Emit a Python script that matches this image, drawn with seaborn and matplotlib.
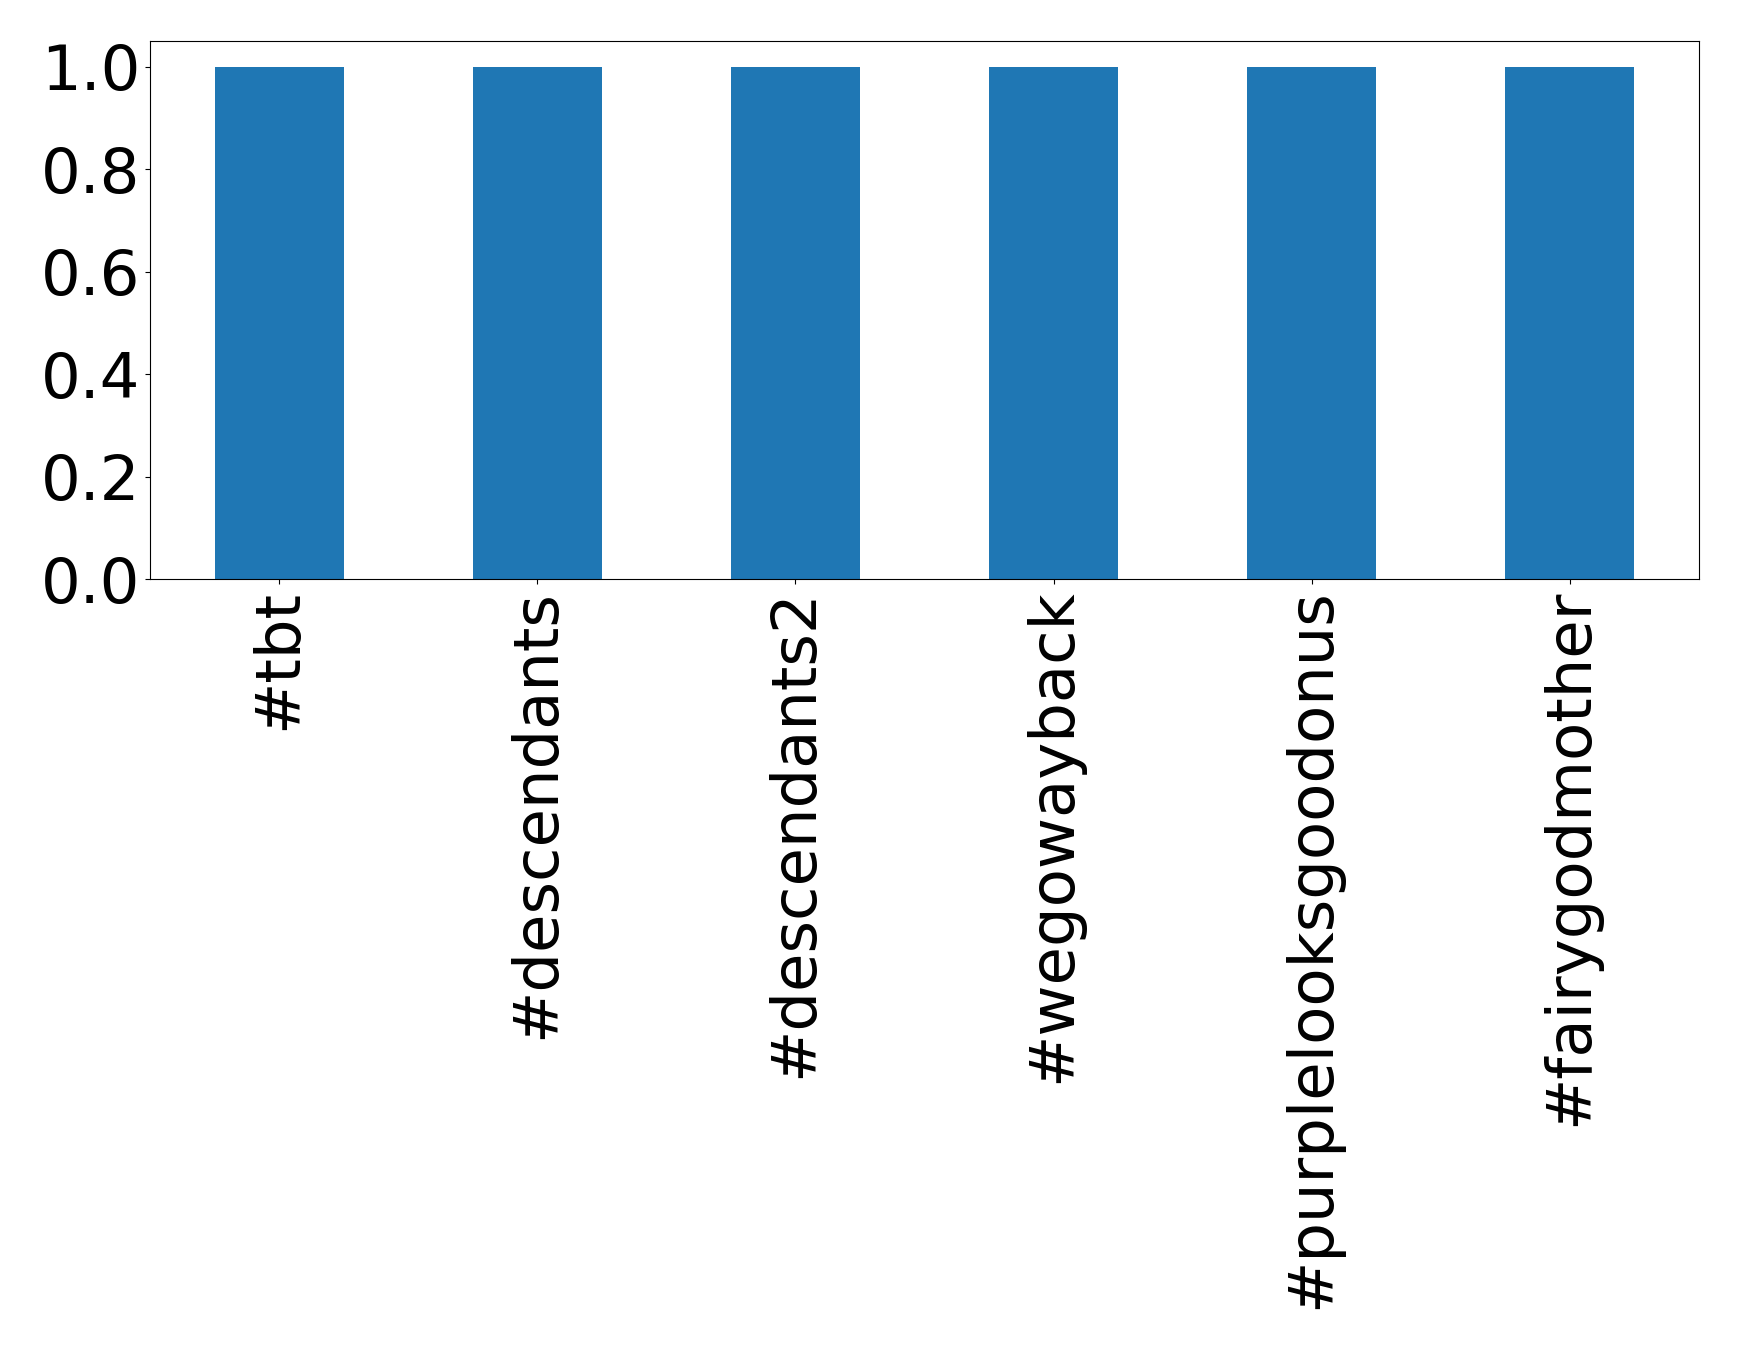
import matplotlib
matplotlib.use("Agg")
import matplotlib.pyplot as plt
import seaborn as sns
import pandas as pd

categories = ["#tbt", "#descendants", "#descendants2", "#wegowayback",
              "#purplelooksgoodonus", "#fairygodmother"]
values = [1, 1, 1, 1, 1, 1]

df = pd.DataFrame({"tag": categories, "count": values})

fig = plt.figure(figsize=(17.39, 13.49), dpi=100)
ax = fig.add_axes([150/1739, 1-579/1349, (1699-150)/1739, (579-41)/1349])
sns.barplot(data=df, x="tag", y="count", color="#1f77b4", saturation=1,
            width=0.5, ax=ax, order=categories)
ax.set_xlim(-0.5, 5.5)
ax.set_ylim(0, 1.05)
ax.set_yticks([0.0, 0.2, 0.4, 0.6, 0.8, 1.0])
ax.set_yticklabels(["0.0", "0.2", "0.4", "0.6", "0.8", "1.0"])
ax.tick_params(axis="both", labelsize=45)
plt.setp(ax.get_xticklabels(), rotation=90)
ax.set_xlabel("")
ax.set_ylabel("")
fig.savefig("out.png", dpi=100)
